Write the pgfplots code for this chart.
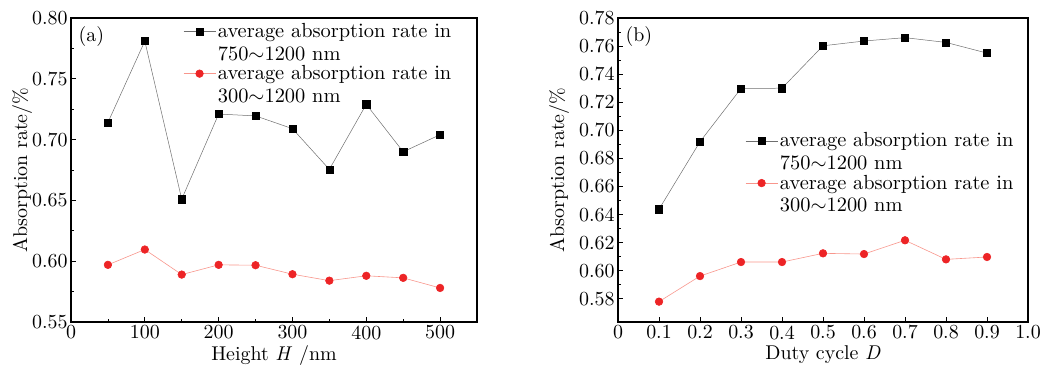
\documentclass[border=0pt]{standalone}
\usepackage{fontspec}
\setmainfont{lmroman10-regular.otf}[ItalicFont=lmroman10-italic.otf, BoldFont=lmroman10-bold.otf]
\usepackage{pgfplots}
\pgfplotsset{compat=1.18}
\definecolor{mred}{RGB}{237,36,38}
\definecolor{lred}{RGB}{248,150,140}
\definecolor{lgray}{RGB}{110,110,110}
\pgfplotsset{
  every axis/.append style={
    scale only axis,
    height=304bp,
    axis line style={line width=1.2pt},
    tick align=inside,
    xtick pos=bottom, ytick pos=left,
    major tick length=5bp, minor tick length=3bp,
    every tick/.style={black, line width=0.8pt},
    /pgf/number format/assume math mode=true,
    tick label style={font=\fontsize{20}{22}\selectfont},
    label style={font=\fontsize{20}{22}\selectfont},
    legend style={draw=none, fill=none, font=\fontsize{20.5}{22.7}\selectfont,
      nodes={align=left}, row sep=0pt, inner sep=0pt},
    legend cell align=left,
    legend image code/.code={%
      \draw[mark repeat=2, mark phase=2, yshift=11bp, #1]
        plot coordinates {(0bp,0bp) (16bp,0bp) (32bp,0bp)};},
  },
}
\pgfplotsset{
  blk/.style={lgray, line width=0.5pt, mark=square*, mark size=3.6bp,
    mark options={black, fill=black}},
  rd/.style={lred, line width=0.6pt, mark=*, mark size=3.8bp,
    mark options={mred, fill=mred}},
}
\begin{document}
\begin{tikzpicture}
\path[use as bounding box] (-71bp,-44bp) rectangle (983bp,322bp);
\begin{axis}[
  at={(0,0)}, anchor=south west,
  width=406bp,
  xmin=0, xmax=550, ymin=0.55, ymax=0.80,
  xtick={0,100,...,500},
  minor x tick num=1,
  ytick={0.55,0.60,0.65,0.70,0.75,0.80},
  minor y tick num=1,
  yticklabel style={/pgf/number format/.cd, fixed, fixed zerofill, precision=2},
  xlabel={Height \textit{H} /nm},
  ylabel={Absorption rate/\%},
  xlabel style={yshift=1bp},
  ylabel style={yshift=-7bp},
  legend style={at={(0.276,0.99)}, anchor=north west},
]
\addplot[blk] coordinates {(50,0.714) (100,0.781) (150,0.651) (200,0.721) (250,0.7195) (300,0.709) (350,0.6755) (400,0.729) (450,0.690) (500,0.704)};
\addlegendentry{average absorption rate in\\750$\sim$1200 nm}
\addplot[rd] coordinates {(50,0.597) (100,0.6096) (150,0.589) (200,0.597) (250,0.5967) (300,0.5893) (350,0.584) (400,0.588) (450,0.5863) (500,0.578)};
\addlegendentry{average absorption rate in\\300$\sim$1200 nm}
\node[anchor=north west, font=\fontsize{20}{22}\selectfont] at (rel axis cs:0.01,0.985) {(a)};
\end{axis}
\begin{axis}[
  at={(547bp,0)}, anchor=south west,
  width=410bp,
  xmin=0, xmax=1.0, ymin=0.5635, ymax=0.78,
  xtick={0,0.1,0.2,0.3,0.4,0.5,0.6,0.7,0.8,0.9,1.0},
  xticklabels={0,0.1,0.2,0.3,0.4,0.5,0.6,0.7,0.8,0.9,1.0},
  ytick={0.58,0.60,0.62,0.64,0.66,0.68,0.70,0.72,0.74,0.76,0.78},
  minor y tick num=1,
  yticklabel style={/pgf/number format/.cd, fixed, fixed zerofill, precision=2},
  xlabel={Duty cycle \textit{D}},
  ylabel={Absorption rate/\%},
  xlabel style={yshift=1bp},
  ylabel style={yshift=3bp},
  legend style={at={(0.31,0.63)}, anchor=north west},
]
\addplot[blk] coordinates {(0.1,0.6438) (0.2,0.6919) (0.3,0.7298) (0.4,0.730) (0.5,0.7602) (0.6,0.7636) (0.7,0.766) (0.8,0.7626) (0.9,0.755)};
\addlegendentry{average absorption rate in\\750$\sim$1200 nm}
\addplot[rd] coordinates {(0.1,0.578) (0.2,0.5962) (0.3,0.6062) (0.4,0.6062) (0.5,0.6124) (0.6,0.6119) (0.7,0.6217) (0.8,0.6081) (0.9,0.6098)};
\addlegendentry{average absorption rate in\\300$\sim$1200 nm}
\node[anchor=north west, font=\fontsize{20}{22}\selectfont] at (rel axis cs:0.01,0.985) {(b)};
\end{axis}
\end{tikzpicture}
\end{document}
